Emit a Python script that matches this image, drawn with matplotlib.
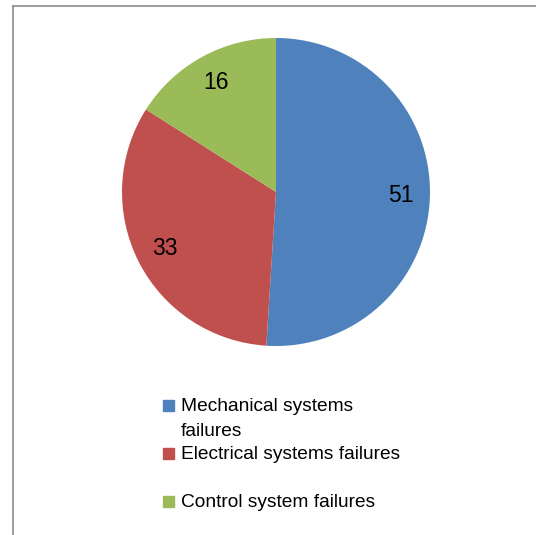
import matplotlib
matplotlib.use("Agg")
import matplotlib.pyplot as plt
from matplotlib.lines import Line2D
from matplotlib.patches import Rectangle

categories = ["Mechanical systems\nfailures", "Electrical systems failures", "Control system failures"]
values = [51, 33, 16]
colors = ["#4F81BD", "#C0504D", "#9BBB59"]

plt.rcParams['font.family'] = ['Liberation Sans', 'DejaVu Sans']

W, H = 536, 535
fig = plt.figure(figsize=(W / 100, H / 100), dpi=100)

# pie centered at (276,192) px with radius 154
cx, cy, r = 276, 192, 154
ax = fig.add_axes([(cx - r) / W, (H - cy - r) / H, 2 * r / W, 2 * r / H])
total = sum(values)
ax.pie(values, colors=colors, startangle=90, counterclock=False,
       autopct=lambda p: f"{round(p * total / 100):d}", pctdistance=0.81,
       textprops={'fontsize': 16.5, 'color': 'black'})
ax.set_xlim(-1, 1)
ax.set_ylim(-1, 1)
ax.set_aspect('equal')

# chart border (left and top)
fig.add_artist(Line2D([13 / W, 13 / W], [0, 1 - 6 / H], transform=fig.transFigure, color='#8c8c8c', lw=1.2))
fig.add_artist(Line2D([13 / W, 1], [1 - 6 / H, 1 - 6 / H], transform=fig.transFigure, color='#8c8c8c', lw=1.2))

# legend (baseline of first line of each entry, px)
baselines = [411, 459, 507]
line_step = 25
for lab, col, yb in zip(categories, colors, baselines):
    fig.add_artist(Rectangle((163 / W, 1 - yb / H), 11 / W, 11 / H,
                             transform=fig.transFigure, color=col))
    for i, part in enumerate(lab.split("\n")):
        fig.text(181 / W, 1 - (yb + i * line_step) / H, part, fontsize=13.8,
                 va='baseline', ha='left')

fig.savefig("out.png", dpi=100)
